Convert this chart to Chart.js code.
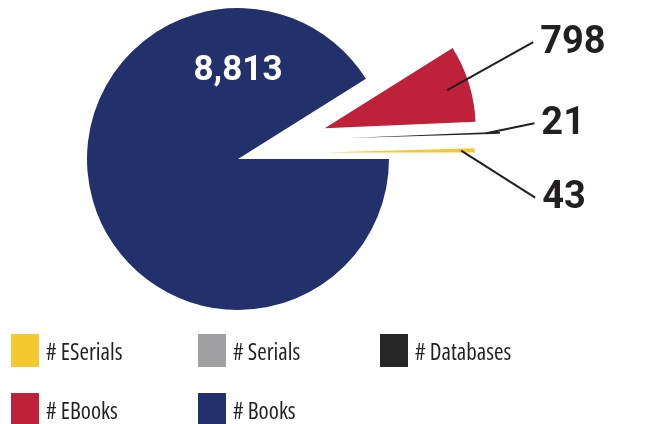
<!DOCTYPE html>
<html>
<head>
<meta charset="utf-8">
<script src="https://cdn.jsdelivr.net/npm/chart.js@4.4.1/dist/chart.umd.min.js"></script>
<style>
  html, body { margin: 0; padding: 0; background: #fff; }
  #wrap { position: relative; width: 661px; height: 424px; overflow: hidden; }
  #pie { position: absolute; left: 0; top: 0; }
  .lg-item { position: absolute; display: flex; align-items: center; height: 33px;
             font-family: 'Open Sans', sans-serif; font-stretch: 75%; font-size: 23px; color: #231f20; }
  .lg-box { width: 28px; height: 33px; margin-right: 7px; }
</style>
</head>
<body>
<div id="wrap">
  <canvas id="pie" width="661" height="424"></canvas>
  <div id="legend"></div>
</div>
<script>
// data, in drawing order (clockwise from 3 o'clock)
const categories = ['# Books', '# EBooks', '# Databases', '# Serials', '# ESerials'];
const counts = [8813, 798, 21, 0, 43];

// styling
const sliceColors = ['#22306b', '#be2139', '#262626', '#a0a0a3', '#f3c930'];
// exploded slices: how far (px) and in which direction (deg) each one is pulled out
const explodeDist = [0, 92, 113, 0, 86];
const explodeDir = [0, -19.6, -10.7, 0, -4.3];
// value labels: inside the slice, or pulled out with a leader line
const callouts = [
    { inside: true, angle: -90, dist: 88 },
    { k: 0.85, dx: 86, dy: -48 },
    { k: 0.91, dx: 48, dy: -10 },
    null,
    { k: 0.91, dx: 74, dy: 47 }
];

const rad = d => d * Math.PI / 180;

// move the exploded arcs away from the centre
const explodePlugin = {
    id: 'explode',
    afterDatasetUpdate(chart, args) {
        args.meta.data.forEach((arc, i) => {
            if (!explodeDist[i]) return;
            arc.x += Math.cos(rad(explodeDir[i])) * explodeDist[i];
            arc.y += Math.sin(rad(explodeDir[i])) * explodeDist[i];
        });
    }
};

const calloutPlugin = {
    id: 'callouts',
    afterDatasetsDraw(chart) {
        const ctx = chart.ctx;
        const arcs = chart.getDatasetMeta(0).data;
        ctx.save();
        arcs.forEach((arc, i) => {
            const c = callouts[i];
            if (!c || !counts[i]) return;
            const p = arc.getProps(['x', 'y', 'startAngle', 'endAngle', 'outerRadius'], true);
            const txt = counts[i].toLocaleString('en-US');
            if (c.inside) {
                ctx.fillStyle = '#ffffff';
                ctx.font = "bold 35px Roboto, 'Liberation Sans', sans-serif";
                ctx.textAlign = 'center';
                ctx.textBaseline = 'middle';
                ctx.fillText(txt, p.x + Math.cos(rad(c.angle)) * c.dist, p.y + Math.sin(rad(c.angle)) * c.dist);
                return;
            }
            const mid = (p.startAngle + p.endAngle) / 2;
            const d = p.outerRadius * c.k;
            const ax = p.x + Math.cos(mid) * d, ay = p.y + Math.sin(mid) * d;
            const ex = ax + c.dx, ey = ay + c.dy;
            ctx.strokeStyle = '#231f20';
            ctx.lineWidth = 2;
            ctx.beginPath();
            ctx.moveTo(ax, ay);
            ctx.lineTo(ex, ey);
            ctx.stroke();
            ctx.fillStyle = '#231f20';
            ctx.font = "bold 38px Roboto, 'Liberation Sans', sans-serif";
            ctx.textAlign = 'left';
            ctx.textBaseline = 'middle';
            ctx.fillText(txt, ex + 7, ey + 1);
        });
        ctx.restore();
    }
};

const chart = new Chart(document.getElementById('pie').getContext('2d'), {
    type: 'pie',
    data: {
        labels: categories,
        datasets: [{
            data: counts,
            backgroundColor: sliceColors,
            borderWidth: 0
        }]
    },
    options: {
        responsive: false,
        animation: false,
        events: [],
        rotation: 90,
        radius: 151,
        layout: { padding: { left: 0, right: 185, top: 0, bottom: 106 } },
        plugins: { legend: { display: false }, tooltip: { enabled: false } }
    },
    plugins: [explodePlugin, calloutPlugin]
});

// html legend, built from the chart's own legend items (reversed order, 3 columns)
const colX = [11, 198, 380], rowY = [334, 393];
const items = chart.options.plugins.legend.labels.generateLabels(chart).reverse();
const legend = document.getElementById('legend');
items.forEach((it, n) => {
    const el = document.createElement('div');
    el.className = 'lg-item';
    el.style.left = colX[n % 3] + 'px';
    el.style.top = rowY[Math.floor(n / 3)] + 'px';
    el.innerHTML = `<div class="lg-box" style="background:${it.fillStyle}"></div><span>${it.text}</span>`;
    legend.appendChild(el);
});
</script>
</body>
</html>
